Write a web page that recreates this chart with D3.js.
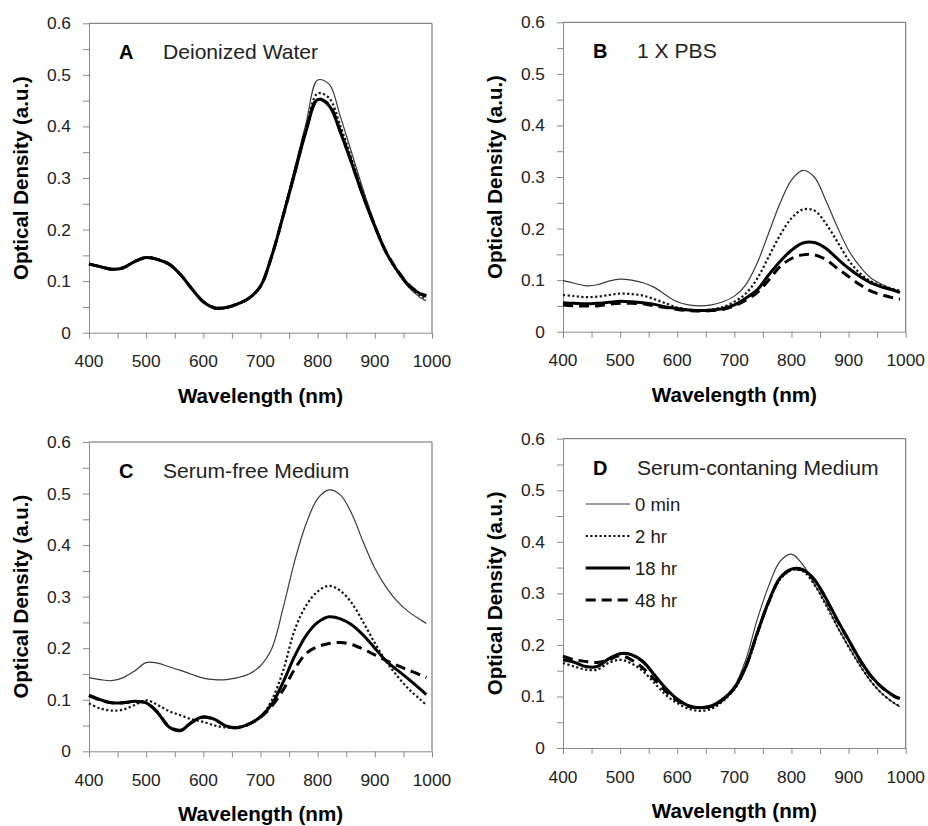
<!DOCTYPE html>
<html>
<head>
<meta charset="utf-8">
<script src="https://cdn.jsdelivr.net/npm/d3@7"></script>
<style>
  html, body { margin: 0; padding: 0; background: #fff; }
  svg { display: block; }
</style>
</head>
<body>
<svg id="chart" width="928" height="826"></svg>
<script>
// ---- data -------------------------------------------------------------
const wavelengths = [400,420,440,460,480,500,520,540,560,580,600,620,640,660,680,700,
                     720,740,760,780,800,820,840,860,880,900,920,940,960,980,990];

const seriesNames = ["0 min", "2 hr", "18 hr", "48 hr"];
const panelLetters = ["A", "B", "C", "D"];
const panelTitles = ["Deionized Water", "1 X PBS", "Serum-free Medium", "Serum-contaning Medium"];

const xTicks = [400, 500, 600, 700, 800, 900, 1000];
const xMinorTicks = [450, 550, 650, 750, 850, 950];
const yTicks = [0, 0.1, 0.2, 0.3, 0.4, 0.5, 0.6];
const yMinorTicks = [0.05, 0.15, 0.25, 0.35, 0.45, 0.55];

// A: deionized water
const waterMin0 = [0.135,0.129,0.124,0.127,0.139,0.147,0.143,0.133,0.112,0.084,0.059,0.047,0.048,0.055,0.066,0.090,
                   0.152,0.234,0.320,0.408,0.490,0.482,0.418,0.347,0.276,0.212,0.158,0.117,0.087,0.068,0.062];
const waterHr2  = [0.134,0.128,0.123,0.126,0.138,0.146,0.142,0.133,0.112,0.085,0.060,0.047,0.048,0.055,0.066,0.090,
                   0.150,0.230,0.314,0.398,0.464,0.455,0.400,0.335,0.268,0.208,0.156,0.118,0.090,0.072,0.066];
const waterHr18 = [0.133,0.128,0.123,0.126,0.138,0.146,0.142,0.133,0.113,0.085,0.060,0.048,0.049,0.056,0.067,0.090,
                   0.150,0.228,0.310,0.392,0.452,0.440,0.388,0.327,0.263,0.206,0.155,0.119,0.091,0.075,0.071];
const waterHr48 = [0.133,0.128,0.123,0.126,0.138,0.146,0.142,0.133,0.113,0.085,0.060,0.048,0.049,0.056,0.067,0.090,
                   0.150,0.228,0.311,0.394,0.453,0.442,0.390,0.328,0.264,0.207,0.156,0.120,0.092,0.076,0.072];

// B: 1 X PBS
const pbsMin0 = [0.099,0.094,0.089,0.091,0.098,0.102,0.100,0.095,0.086,0.071,0.058,0.052,0.050,0.052,0.058,0.069,
                 0.091,0.133,0.191,0.249,0.294,0.313,0.300,0.255,0.204,0.158,0.126,0.103,0.091,0.081,0.078];
const pbsHr2  = [0.071,0.069,0.067,0.068,0.071,0.074,0.073,0.070,0.063,0.055,0.047,0.043,0.042,0.043,0.048,0.058,
                 0.074,0.103,0.145,0.187,0.220,0.237,0.235,0.210,0.175,0.139,0.113,0.097,0.089,0.082,0.080];
const pbsHr18 = [0.056,0.055,0.054,0.055,0.057,0.059,0.058,0.056,0.053,0.048,0.045,0.042,0.041,0.042,0.045,0.052,
                 0.065,0.081,0.110,0.136,0.158,0.172,0.173,0.162,0.142,0.123,0.107,0.094,0.086,0.080,0.076];
const pbsHr48 = [0.052,0.050,0.050,0.050,0.053,0.055,0.055,0.054,0.050,0.047,0.043,0.041,0.040,0.041,0.043,0.050,
                 0.061,0.076,0.100,0.126,0.142,0.149,0.149,0.140,0.123,0.107,0.091,0.078,0.071,0.065,0.063];

// C: serum-free medium
const sfMin0 = [0.143,0.139,0.137,0.143,0.156,0.172,0.171,0.164,0.157,0.149,0.142,0.139,0.139,0.143,0.150,0.166,
                0.200,0.280,0.370,0.442,0.490,0.507,0.497,0.460,0.405,0.355,0.318,0.290,0.270,0.255,0.248];
const sfHr2  = [0.093,0.083,0.079,0.081,0.090,0.099,0.090,0.078,0.070,0.062,0.057,0.050,0.046,0.045,0.052,0.066,
                0.100,0.158,0.236,0.283,0.310,0.321,0.311,0.287,0.250,0.210,0.174,0.145,0.120,0.100,0.090];
const sfHr18 = [0.109,0.100,0.094,0.094,0.097,0.094,0.075,0.047,0.040,0.057,0.067,0.062,0.049,0.046,0.053,0.067,
                0.092,0.135,0.185,0.225,0.250,0.261,0.257,0.245,0.225,0.200,0.175,0.157,0.139,0.120,0.110];
const sfHr48 = [0.108,0.099,0.094,0.094,0.096,0.094,0.076,0.048,0.041,0.056,0.066,0.061,0.049,0.046,0.053,0.066,
                0.088,0.120,0.160,0.190,0.203,0.209,0.211,0.207,0.198,0.187,0.176,0.166,0.157,0.148,0.143];

// D: serum-containing medium
const scMin0 = [0.175,0.168,0.158,0.160,0.175,0.183,0.179,0.165,0.139,0.113,0.094,0.082,0.080,0.084,0.097,0.120,
                0.171,0.249,0.314,0.362,0.376,0.355,0.318,0.280,0.236,0.197,0.160,0.128,0.104,0.087,0.080];
const scHr2  = [0.165,0.158,0.152,0.152,0.165,0.171,0.164,0.149,0.126,0.103,0.087,0.076,0.072,0.076,0.091,0.114,
                0.155,0.220,0.281,0.327,0.345,0.343,0.317,0.278,0.236,0.196,0.160,0.128,0.104,0.087,0.081];
const scHr18 = [0.171,0.166,0.158,0.158,0.173,0.183,0.181,0.168,0.142,0.116,0.095,0.082,0.078,0.081,0.094,0.116,
                0.158,0.223,0.284,0.330,0.347,0.346,0.327,0.291,0.249,0.210,0.171,0.139,0.116,0.101,0.096];
const scHr48 = [0.178,0.171,0.168,0.166,0.171,0.179,0.171,0.155,0.133,0.110,0.092,0.081,0.078,0.081,0.094,0.116,
                0.158,0.222,0.283,0.329,0.346,0.345,0.326,0.290,0.248,0.209,0.170,0.138,0.116,0.100,0.095];

const panelSeries = [
  [waterMin0, waterHr2, waterHr18, waterHr48],
  [pbsMin0, pbsHr2, pbsHr18, pbsHr48],
  [sfMin0, sfHr2, sfHr18, sfHr48],
  [scMin0, scHr2, scHr18, scHr48]
];

// ---- layout & styles --------------------------------------------------
const panels = [
  { left: 89,  top: 23.3,  right: 432,   bottom: 332.7 },
  { left: 563, top: 22.3,  right: 905.7, bottom: 331.7 },
  { left: 89,  top: 442,   right: 432,   bottom: 751.3 },
  { left: 563, top: 438.7, right: 905.7, bottom: 748 }
];

const lineStyles = [
  { stroke: "#3a3a3a", width: 1.2, dash: null },
  { stroke: "#111",    width: 2.2, dash: "2.2,2.4" },
  { stroke: "#000",    width: 3,   dash: null },
  { stroke: "#000",    width: 3,   dash: "10,6" }
];

const FONT = "'Liberation Sans', Arial, Helvetica, sans-serif";
const svg = d3.select("#chart");
svg.append("rect").attr("width", 928).attr("height", 826).attr("fill", "#fff");

function label(g, x, y, s, o) {
  return g.append("text")
    .attr("transform", `translate(${x},${y}) rotate(${o.rotate || 0}) scale(${o.sx || 1},1)`)
    .attr("text-anchor", o.anchor || "start")
    .attr("font-family", FONT)
    .attr("font-size", o.size)
    .attr("font-weight", o.weight || "normal")
    .attr("fill", o.fill || "#1e1e1e")
    .text(s);
}

const yFmt = d => d === 0 ? "0" : d3.format(".1f")(d);

panels.forEach((p, pi) => {
  const g = svg.append("g");
  const x = d3.scaleLinear().domain([400, 1000]).range([p.left, p.right]);
  const y = d3.scaleLinear().domain([0, 0.6]).range([p.bottom, p.top]);

  // frame: top & right edges
  g.append("path")
    .attr("d", `M${p.left},${p.top}H${p.right}V${p.bottom}`)
    .attr("fill", "none").attr("stroke", "#666").attr("stroke-width", 1);

  // axes with major and minor ticks
  const axisStyle = sel => {
    sel.select(".domain").attr("stroke", "#8a8a8a");
    sel.selectAll(".tick line").attr("stroke", "#8a8a8a");
    sel.selectAll(".tick text").remove();
  };
  g.append("g").attr("transform", `translate(0,${p.bottom})`)
    .call(d3.axisBottom(x).tickValues(xTicks.concat(xMinorTicks)).tickSize(6).tickSizeOuter(0))
    .call(axisStyle);
  g.append("g").attr("transform", `translate(${p.left},0)`)
    .call(d3.axisLeft(y).tickValues(yTicks.concat(yMinorTicks)).tickSize(6).tickSizeOuter(0))
    .call(axisStyle);

  // tick labels
  xTicks.forEach(v => label(g, x(v), p.bottom + 34.6, String(v),
    { size: 16.5, anchor: "middle", sx: 1.05, fill: "#222" }));
  yTicks.forEach(v => label(g, p.left - 18, y(v) + 6, yFmt(v),
    { size: 16.5, anchor: "end", sx: 1.05, fill: "#222" }));

  // axis titles
  label(g, (p.left + p.right) / 2, p.bottom + 70, "Wavelength (nm)",
    { size: 20, weight: "bold", anchor: "middle", sx: 1.03, fill: "#000" });
  label(g, p.left - 61, (p.top + p.bottom) / 2, "Optical Density (a.u.)",
    { size: 20.5, weight: "bold", anchor: "middle", rotate: -90, fill: "#000" });

  // panel heading
  label(g, p.left + 30, p.top + 36, panelLetters[pi], { size: 20, weight: "bold", fill: "#000" });
  label(g, p.left + 74, p.top + 36, panelTitles[pi], { size: 20, sx: 1.055, fill: "#222" });

  // spectra
  const line = d3.line()
    .x((d, i) => x(wavelengths[i]))
    .y(d => y(d))
    .curve(d3.curveCatmullRom.alpha(0.5));
  panelSeries[pi].forEach((vals, si) => {
    const st = lineStyles[si];
    g.append("path")
      .datum(vals)
      .attr("d", line)
      .attr("fill", "none")
      .attr("stroke", st.stroke)
      .attr("stroke-width", st.width)
      .attr("stroke-dasharray", st.dash)
      .attr("stroke-linejoin", "round");
  });

  // legend (panel D)
  if (pi === 3) {
    seriesNames.forEach((name, si) => {
      const st = lineStyles[si];
      const ly = p.top + 65.3 + si * 32;
      g.append("line")
        .attr("x1", p.left + 22.7).attr("x2", p.left + 67)
        .attr("y1", ly).attr("y2", ly)
        .attr("stroke", st.stroke).attr("stroke-width", st.width)
        .attr("stroke-dasharray", st.dash);
      label(g, p.left + 72, ly + 6.8, name, { size: 18.5, fill: "#1a1a1a" });
    });
  }
});
</script>
</body>
</html>
